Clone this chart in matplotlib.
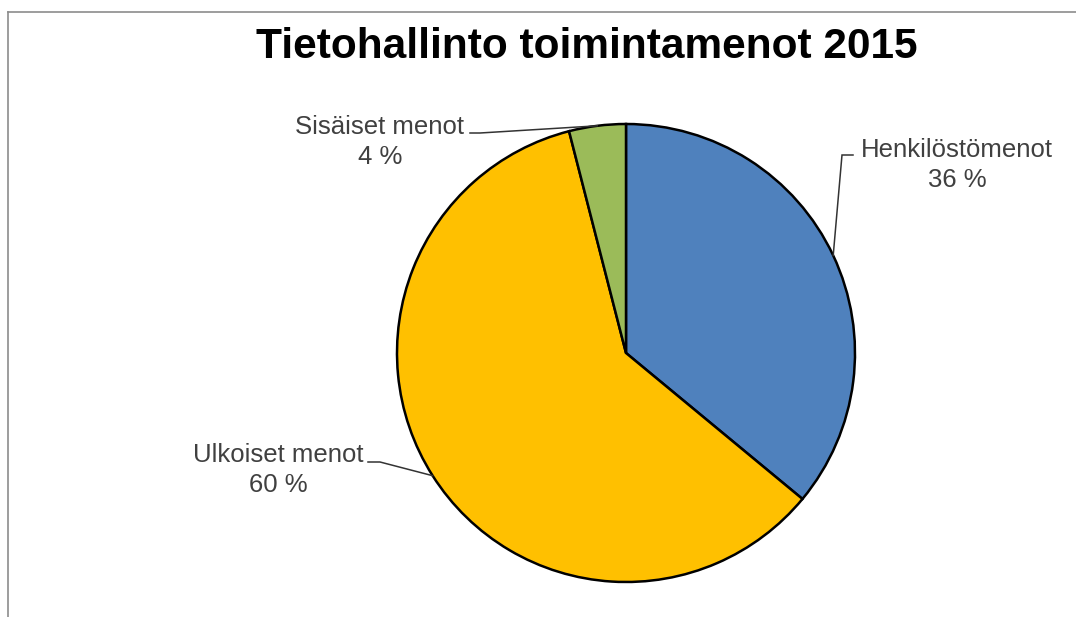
import matplotlib
matplotlib.use("Agg")
import matplotlib.pyplot as plt
from matplotlib.lines import Line2D
import numpy as np

title = "Tietohallinto toimintamenot 2015"
categories = ["Henkilöstömenot", "Ulkoiset menot", "Sisäiset menot"]
values = [36, 60, 4]
colors = ["#4F81BD", "#FFC000", "#9BBB59"]

W, H = 1076, 617
fig = plt.figure(figsize=(W / 100, H / 100), dpi=100)
plt.rcParams['font.family'] = ['Liberation Sans', 'DejaVu Sans']

R = 229.0
cx, cy = 626.0, 353.0  # pixel centre (from top)

def px(x, y):
    return ((x - cx) / R, (cy - y) / R)

ax = fig.add_axes([0, 0, 1, 1])

wedges, _ = ax.pie(values, colors=colors, startangle=90, counterclock=False,
                   radius=1.0, wedgeprops=dict(edgecolor='black', linewidth=1.8))
ax.set_xlim(-cx / R, (W - cx) / R)
ax.set_ylim(-(H - cy) / R, cy / R)
ax.set_aspect('equal')
ax.axis('off')

# label layout (pixel positions)
label_pos = [(957, 165), (278, 470), (380, 142)]
label_end = [(853, 155), (368, 462), (470, 133)]
elbow = [(842, 155), (380, 462), (480, 133)]

for w, cat, val, lp, le, el in zip(wedges, categories, values, label_pos, label_end, elbow):
    mid = np.deg2rad((w.theta1 + w.theta2) / 2)
    pie_pt = (np.cos(mid), np.sin(mid))
    e = px(*el)
    l = px(*le)
    ax.plot([pie_pt[0], e[0], l[0]], [pie_pt[1], e[1], l[1]], color='#333333', lw=1.1,
            solid_joinstyle='miter')
    tx, ty = px(*lp)
    ax.text(tx, ty, f"{cat}\n{val} %", ha='center', va='center', multialignment='center',
            fontsize=18.5, color='#404040', linespacing=1.3)

fig.text(587 / W, 1 - 47 / H, title, ha='center', va='center', fontsize=30.5,
         fontweight='bold', color='black')

# frame (top and left edges)
fig.add_artist(Line2D([8 / W, 8 / W], [0, 1 - 12 / H], color='#8c8c8c', lw=1.2,
                      transform=fig.transFigure))
fig.add_artist(Line2D([8 / W, 1], [1 - 12 / H, 1 - 12 / H], color='#8c8c8c', lw=1.2,
                      transform=fig.transFigure))

fig.savefig("out.png", dpi=100, facecolor='white')
